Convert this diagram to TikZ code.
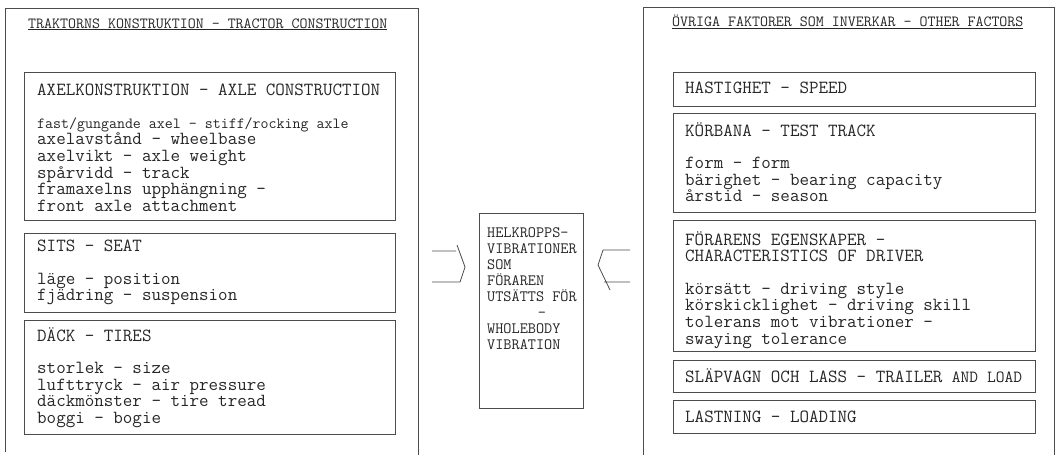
\documentclass[tikz,border=0pt]{standalone}
\usepackage{fontspec}
\tikzset{
  frame/.style={draw=black!70,line width=.8pt},
  faktor/.style={frame,rectangle,inner sep=0pt,anchor=north west},
  txt/.style={anchor=north west,inner sep=0pt,align=left,text=black!85,
    font=\ttfamily\fontsize{18.5}{16.6}\selectfont},
  rubrik/.style={anchor=base west,inner sep=0pt,text=black!85,
    font=\ttfamily\fontsize{15.5}{16}\selectfont},
  mitt/.style={txt,font=\ttfamily\fontsize{15.8}{16}\selectfont}
}
\begin{document}
\begin{tikzpicture}[x=1pt,y=-1pt]
	\useasboundingbox (0,0) rectangle (1056,455);
	\draw[frame] (5,452) -- (5,8) -- (418,8) -- (418,455);
	\draw[frame] (643,455) -- (643,7) -- (1054,7) -- (1054,455);
	\node[rubrik] (traktor) at (28,28) {\underline{TRAKTORNS KONSTRUKTION - TRACTOR CONSTRUCTION}};
	\node[rubrik] (ovriga) at (672,27) {\underline{ÖVRIGA FAKTORER SOM INVERKAR - OTHER FACTORS}};
	% traktorns konstruktion
	\node[faktor,minimum width=371pt,minimum height=148pt] (axel) at (24,72) {};
	\node[faktor,minimum width=371pt,minimum height=79pt] (sits) at (24,233) {};
	\node[faktor,minimum width=371pt,minimum height=114pt] (dack) at (24,320) {};
	\node[txt] (axeltxt) at (37,84) {AXELKONSTRUKTION - AXLE CONSTRUCTION\\[16pt]
		{\fontsize{15.5}{16.6}\selectfont fast/gungande axel - stiff/rocking axle}\\
		axelavstånd - wheelbase\\
		axelvikt - axle weight\\
		spårvidd - track\\
		framaxelns  upphängning -\\
		front axle attachment};
	\node[txt] (sitstxt) at (37,240) {SITS - SEAT\\[16pt]
		läge - position\\
		fjädring - suspension};
	\node[txt] (dacktxt) at (37,327) {DÄCK - TIRES\\[16pt]
		storlek - size\\
		lufttryck - air pressure\\
		däckmönster - tire tread\\
		boggi - bogie};
	% mitten
	\node[faktor,minimum width=104pt,minimum height=195pt] (vib) at (479,213) {};
	\node[mitt] (vibtxt) at (487,227) {HELKROPPS-\\VIBRATIONER\\SOM\\FÖRAREN\\UTSÄTTS FÖR\\
		\hspace*{3.2em}-\\WHOLEBODY\\VIBRATION};
	\draw[frame] (432,251) -- (456,251) (457,245) -- (465,267) -- (460,282) (432,282) -- (460,282);
	\draw[frame] (630,250) -- (603,250) -- (598,265) -- (610,290) (604,282) -- (630,282);
	% övriga faktorer
	\node[faktor,minimum width=362pt,minimum height=34pt] (hast) at (673,72) {};
	\node[faktor,minimum width=362pt,minimum height=99pt] (korb) at (673,113) {};
	\node[faktor,minimum width=362pt,minimum height=131pt] (forar) at (673,220) {};
	\node[faktor,minimum width=362pt,minimum height=32pt] (slap) at (673,360) {};
	\node[faktor,minimum width=362pt,minimum height=33pt] (last) at (673,400) {};
	\node[txt] (hasttxt) at (685,82) {HASTIGHET - SPEED};
	\node[txt] (korbtxt) at (685,122) {KÖRBANA - TEST TRACK\\[16pt]
		form - form\\
		bärighet - bearing capacity\\
		årstid - season};
	\node[txt] (forartxt) at (685,231) {FÖRARENS EGENSKAPER -\\CHARACTERISTICS OF DRIVER\\[16pt]
		körsätt - driving style\\
		körskicklighet - driving skill\\
		tolerans mot vibrationer -\\
		swaying tolerance};
	\node[txt] (slaptxt) at (685,368) {SLÄPVAGN OCH LASS - TRAILER {\fontsize{17}{16}\selectfont AND LOAD}};
	\node[txt] (lasttxt) at (685,411) {LASTNING - LOADING};
\end{tikzpicture}
\end{document}
